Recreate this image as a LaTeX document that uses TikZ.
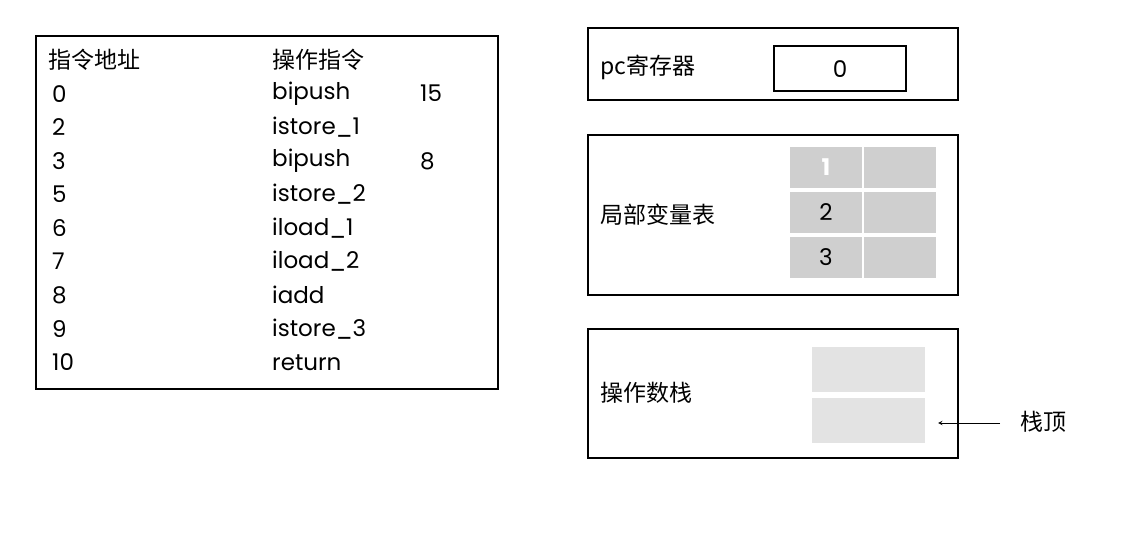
\documentclass[tikz,border=0pt]{standalone}
\usepackage{fontspec}
\setmainfont{Poppins}
\newfontfamily\cjk{Noto Sans CJK SC}
\begin{document}
\begin{tikzpicture}[x=1pt,y=-1pt,
  frame/.style={draw=black,line width=1.5pt},
  txt/.style={anchor=west,inner sep=0pt,font=\fontsize{23}{23}\selectfont},
  cjktxt/.style={anchor=west,inner sep=0pt,font=\cjk\fontsize{23}{23}\selectfont},
  cellA/.style={fill=black!19,draw=none,minimum width=72,minimum height=41,inner sep=0pt,font=\fontsize{23}{23}\selectfont},
  cellB/.style={fill=black!11,draw=none,minimum width=113,minimum height=45,inner sep=0pt}]
\useasboundingbox (0,0) rectangle (1124,538);
% left code box
\draw[frame] (36,36) rectangle (498,389);
\node[cjktxt] (h1) at (48,60) {指令地址};
\node[cjktxt] (h2) at (272,60) {操作指令};
\foreach \i/\a/\op/\arg in {1/0/bipush/15,2/2/istore\_1/,3/3/bipush/8,4/5/istore\_2/,5/6/iload\_1/,6/7/iload\_2/,7/8/iadd/,8/9/istore\_3/,9/10/return/}{
  \node[txt] (a\i) at (52,60+33.6*\i) {\a};
  \node[txt] (o\i) at (272,60+33.6*\i) {\op};
  \node[txt] (g\i) at (420,60+33.6*\i) {\arg};
}
% pc box
\draw[frame] (588,28) rectangle (958,100);
\node[cjktxt] (pc) at (600,67) {pc寄存器};
\draw[line width=1.5pt] (774,46) rectangle (906,91);
\node[font=\fontsize{23}{23}\selectfont] (pcv) at (840,69) {0};
% local variables
\draw[frame] (588,135) rectangle (958,295);
\node[cjktxt] (lv) at (600,215) {局部变量表};
\node[cellA,text=white,font=\bfseries\fontsize{23}{23}\selectfont] (c11) at (826,167.5) {1};
\node[cellA] (c12) at (900,167.5) {};
\node[cellA] (c21) at (826,212.5) {2};
\node[cellA] (c22) at (900,212.5) {};
\node[cellA] (c31) at (826,257.5) {3};
\node[cellA] (c32) at (900,257.5) {};
% operand stack
\draw[frame] (588,329) rectangle (958,458);
\node[cjktxt] (os) at (600,393) {操作数栈};
\node[cellB] (s1) at (868.5,369.5) {};
\node[cellB] (s2) at (868.5,420) {};
\coordinate (arrS) at (1000,423);
\draw[-stealth,line width=1pt] (arrS) -- (938,423);
\node[cjktxt] (top) at (1020,422) {栈顶};
\end{tikzpicture}
\end{document}
